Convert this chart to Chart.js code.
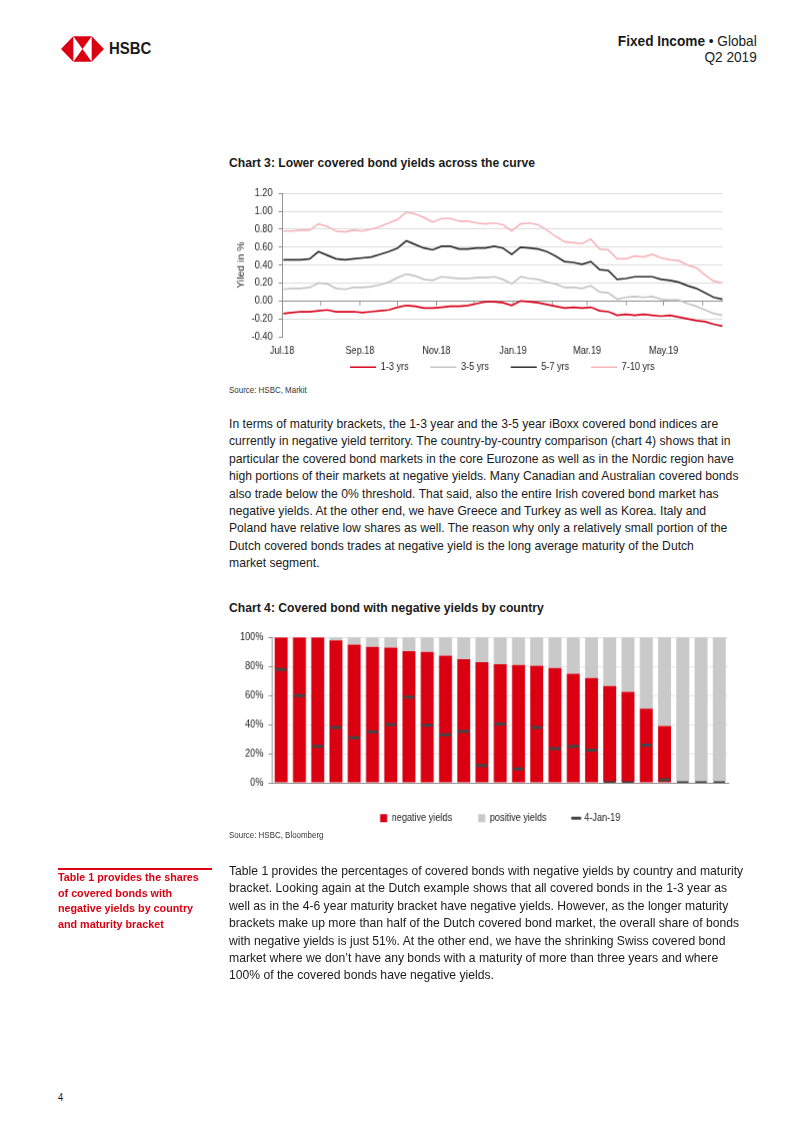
<!DOCTYPE html>
<html>
<head>
<meta charset="utf-8">
<script src="https://cdn.jsdelivr.net/npm/chart.js@4.4.1/dist/chart.umd.min.js"></script>
<style>
html, body { margin: 0; padding: 0; background: #fff; }
body { width: 802px; height: 1133px; position: relative; overflow: hidden;
       font-family: "Liberation Sans", Arial, sans-serif; color: #1a1a1a; }
.t { position: absolute; white-space: nowrap; transform: scaleX(0.935); transform-origin: 0 0; }
.p { font-size: 13px; line-height: 17.4px; }
.ttl { font-size: 13px; font-weight: bold; line-height: 16px; }
.src { font-size: 8.5px; line-height: 10px; color: #333; }
.side { font-size: 11.5px; font-weight: bold; line-height: 15.7px; color: #db0011; }
.hdr { position: absolute; right: 45px; top: 33px; text-align: right; font-size: 14.5px; line-height: 16px;
       white-space: nowrap; transform: scaleX(0.94); transform-origin: 100% 0; }
.box { position: absolute; transform: scaleX(0.87); transform-origin: 0 0; }
</style>
</head>
<body>

<svg style="position:absolute;left:61px;top:36px" width="43" height="26" viewBox="0 0 42 25">
  <polygon points="0,12.5 12,0 12,25" fill="#db0011"/>
  <polygon points="42,12.5 30,0 30,25" fill="#db0011"/>
  <polygon points="12,0 30,0 21,12.5" fill="#db0011"/>
  <polygon points="12,25 30,25 21,12.5" fill="#db0011"/>
</svg>
<div class="t" style="left:109px;top:39px;font-size:17px;font-weight:bold;line-height:20px;transform:scaleX(0.88);">HSBC</div>

<div class="hdr"><b>Fixed Income</b> &#8226; Global<br>Q2 2019</div>

<div class="t ttl" style="left:229px;top:155px;">Chart 3: Lower covered bond yields across the curve</div>
<div class="box" style="left:229px;top:180px;width:584px;height:201.5px;"><canvas id="chart3"></canvas></div>
<div class="t src" style="left:229px;top:385px;">Source: HSBC, Markit</div>

<div class="t p" style="left:229px;top:415px;">
In terms of maturity brackets, the 1-3 year and the 3-5 year iBoxx covered bond indices are<br>
currently in negative yield territory. The country-by-country comparison (chart 4) shows that in<br>
particular the covered bond markets in the core Eurozone as well as in the Nordic region have<br>
high portions of their markets at negative yields. Many Canadian and Australian covered bonds<br>
also trade below the 0% threshold. That said, also the entire Irish covered bond market has<br>
negative yields. At the other end, we have Greece and Turkey as well as Korea. Italy and<br>
Poland have relative low shares as well. The reason why only a relatively small portion of the<br>
Dutch covered bonds trades at negative yield is the long average maturity of the Dutch<br>
market segment.
</div>

<div class="t ttl" style="left:229px;top:600px;">Chart 4: Covered bond with negative yields by country</div>
<div class="box" style="left:229px;top:625px;width:584px;height:207.5px;"><canvas id="chart4"></canvas></div>
<div class="t src" style="left:229px;top:830px;">Source: HSBC, Bloomberg</div>

<div style="position:absolute;left:58px;top:868px;width:154px;height:1.5px;background:#db0011;"></div>
<div class="t side" style="left:58px;top:870px;">
Table 1 provides the shares<br>
of covered bonds with<br>
negative yields by country<br>
and maturity bracket
</div>

<div class="t p" style="left:229px;top:862px;">
Table 1 provides the percentages of covered bonds with negative yields by country and maturity<br>
bracket. Looking again at the Dutch example shows that all covered bonds in the 1-3 year as<br>
well as in the 4-6 year maturity bracket have negative yields. However, as the longer maturity<br>
brackets make up more than half of the Dutch covered bond market, the overall share of bonds<br>
with negative yields is just 51%. At the other end, we have the shrinking Swiss covered bond<br>
market where we don’t have any bonds with a maturity of more than three years and where<br>
100% of the covered bonds have negative yields.
</div>

<div class="t" style="left:58px;top:1092px;font-size:10px;line-height:12px;">4</div>

<script>
// Chart 3: weekly readings of the iBoxx covered bond yields (%)
const weekDates = [
  '2018-07-02', '2018-07-09', '2018-07-16', '2018-07-23', '2018-07-30',
  '2018-08-06', '2018-08-13', '2018-08-20', '2018-08-27',
  '2018-09-03', '2018-09-10', '2018-09-17', '2018-09-24',
  '2018-10-01', '2018-10-08', '2018-10-15', '2018-10-22', '2018-10-29',
  '2018-11-05', '2018-11-12', '2018-11-19', '2018-11-26',
  '2018-12-03', '2018-12-10', '2018-12-17', '2018-12-24', '2018-12-31',
  '2019-01-07', '2019-01-14', '2019-01-21', '2019-01-28',
  '2019-02-04', '2019-02-11', '2019-02-18', '2019-02-25',
  '2019-03-04', '2019-03-11', '2019-03-18', '2019-03-25',
  '2019-04-01', '2019-04-08', '2019-04-15', '2019-04-22', '2019-04-29',
  '2019-05-06', '2019-05-13', '2019-05-20', '2019-05-27',
  '2019-06-03', '2019-06-10', '2019-06-17'
];
const yields13 = [
  -0.14, -0.13, -0.12, -0.12, -0.11, -0.10, -0.12, -0.12, -0.12, -0.13,
  -0.12, -0.11, -0.10, -0.07, -0.05, -0.06, -0.08, -0.08, -0.07, -0.06,
  -0.06, -0.05, -0.03, -0.01, -0.01, -0.02, -0.05, 0.00, -0.01, -0.02,
  -0.04, -0.06, -0.08, -0.07, -0.08, -0.07, -0.11, -0.12, -0.16, -0.15,
  -0.16, -0.15, -0.16, -0.17, -0.16, -0.18, -0.20, -0.22, -0.23, -0.26, -0.28
];
const yields35 = [
  0.13, 0.14, 0.14, 0.15, 0.20, 0.19, 0.14, 0.13, 0.15, 0.15,
  0.16, 0.18, 0.21, 0.26, 0.30, 0.28, 0.24, 0.23, 0.27, 0.26,
  0.25, 0.25, 0.26, 0.26, 0.27, 0.24, 0.19, 0.27, 0.25, 0.24,
  0.21, 0.19, 0.15, 0.15, 0.14, 0.17, 0.10, 0.09, 0.02, 0.04,
  0.05, 0.04, 0.05, 0.02, 0.01, 0.01, -0.03, -0.06, -0.10, -0.14, -0.16
];
const yields57 = [
  0.46, 0.46, 0.46, 0.47, 0.55, 0.51, 0.47, 0.46, 0.47, 0.48,
  0.49, 0.52, 0.55, 0.59, 0.67, 0.63, 0.59, 0.57, 0.61, 0.61,
  0.58, 0.58, 0.59, 0.59, 0.61, 0.59, 0.52, 0.60, 0.59, 0.58,
  0.55, 0.50, 0.44, 0.43, 0.41, 0.44, 0.35, 0.34, 0.24, 0.25,
  0.27, 0.27, 0.27, 0.24, 0.23, 0.21, 0.17, 0.14, 0.09, 0.04, 0.02
];
const yields710 = [
  0.78, 0.78, 0.79, 0.79, 0.86, 0.83, 0.78, 0.77, 0.79, 0.78,
  0.80, 0.83, 0.87, 0.91, 0.99, 0.97, 0.93, 0.88, 0.92, 0.92,
  0.89, 0.89, 0.87, 0.86, 0.87, 0.85, 0.78, 0.86, 0.87, 0.85,
  0.79, 0.72, 0.66, 0.65, 0.64, 0.69, 0.58, 0.57, 0.47, 0.47,
  0.50, 0.49, 0.52, 0.48, 0.46, 0.45, 0.40, 0.37, 0.29, 0.22, 0.20
];
const monthStarts = [
  '2018-07-01', '2018-08-01', '2018-09-01', '2018-10-01', '2018-11-01', '2018-12-01',
  '2019-01-01', '2019-02-01', '2019-03-01', '2019-04-01', '2019-05-01', '2019-06-01'
];
const monthLabels = ['Jul.18', '', 'Sep.18', '', 'Nov.18', '', 'Jan.19', '', 'Mar.19', '', 'May.19', ''];

// Chart 4: share of covered bonds with negative yields (%)
const countries = ['CH', 'IE', 'LU', 'CA', 'NO', 'GB', 'SE', 'DK', 'FI', 'DE', 'BE', 'NZ', 'AT',
                   'SG', 'FR', 'ES', 'PT', 'AU', 'JP', 'PL', 'NL', 'IT', 'GR', 'KR', 'TR'];
const negShares = [100, 100, 100, 98, 95, 93.5, 93, 90.5, 90, 87.5, 85, 83, 81.5,
                   81, 80.5, 79, 75, 72, 66.5, 62.5, 51, 39, 0, 0, 0];
const posShares = [0, 0, 0, 2, 5, 6.5, 7, 9.5, 10, 12.5, 15, 17, 18.5,
                   19, 19.5, 21, 25, 28, 33.5, 37.5, 49, 61, 100, 100, 100];
const jan19Shares = [78, 60, 25, 38, 31, 35, 40, 59, 39.5, 33, 35.5, 12, 40.5,
                     9.5, 38, 23.5, 25, 22.5, 0, 0, 26, 2, 0, 0, 0];

Chart.defaults.font.family = '"Liberation Sans", Arial, sans-serif';
Chart.defaults.color = '#222';
Chart.defaults.animation = false;

const RED = '#db0011';
const AXIS = '#8c8c8c';

// Tage seit dem 1. Juli 2018 als x-Wert
const day0 = Date.parse('2018-07-01');
const toDay = s => Math.round((Date.parse(s) - day0) / 864e5);
const monthDays = monthStarts.map(toDay);
const lastDay = toDay(weekDates[weekDates.length - 1]);

function series(values) {
    return values.map((v, i) => ({ x: toDay(weekDates[i]), y: v }));
}

function lineSet(label, values, color) {
    return {
        label: label,
        data: series(values),
        borderColor: color,
        backgroundColor: color,
        borderWidth: 1.7,
        pointRadius: 0,
        tension: 0
    };
}

new Chart(document.getElementById('chart3'), {
    type: 'line',
    data: {
        datasets: [
            lineSet('1-3 yrs', yields13, '#d9001a'),
            lineSet('3-5 yrs', yields35, '#c4c4c4'),
            lineSet('5-7 yrs', yields57, '#2b2b2b'),
            lineSet('7-10 yrs', yields710, '#f6b4b9')
        ]
    },
    options: {
        responsive: true,
        maintainAspectRatio: false,
        layout: { padding: { top: 10, right: 8, left: 0, bottom: 0 } },
        scales: {
            // x-Achse liegt auf der Nulllinie, Beschriftung weiter unten
            x: {
                type: 'linear',
                min: 0,
                max: lastDay,
                position: { y: 0 },
                afterBuildTicks: scale => { scale.ticks = monthDays.map(v => ({ value: v })); },
                ticks: {
                    autoSkip: false,
                    maxRotation: 0,
                    padding: 39,
                    font: { size: 10.5 },
                    callback: (v, i) => monthLabels[i]
                },
                grid: { drawOnChartArea: false, drawTicks: true, tickLength: 4, color: AXIS },
                border: { color: AXIS, width: 1 }
            },
            y: {
                min: -0.4,
                max: 1.2,
                afterFit: s => { s.width = 61; },
                ticks: {
                    stepSize: 0.2,
                    padding: 7,
                    font: { size: 10.5 },
                    callback: v => v.toFixed(2)
                },
                grid: {
                    color: c => (c.tick && c.tick.value < -0.39) ? 'rgba(0,0,0,0)' : '#dcdcdc',
                    tickColor: AXIS,
                    tickLength: 4
                },
                border: { color: AXIS },
                title: {
                    display: true,
                    text: 'Yiled in %',
                    font: { size: 10.5 },
                    padding: { top: 8, bottom: 0 }
                }
            }
        },
        plugins: {
            legend: {
                position: 'bottom',
                fullSize: false,
                labels: {
                    usePointStyle: true,
                    pointStyle: 'line',
                    pointStyleWidth: 30,
                    boxHeight: 10,
                    padding: 25,
                    font: { size: 10.5 }
                }
            },
            tooltip: { enabled: false }
        }
    }
});

const legendStyles4 = ['rect', 'rect', 'line'];

new Chart(document.getElementById('chart4'), {
    type: 'bar',
    data: {
        labels: countries,
        datasets: [
            {
                label: 'negative yields',
                data: negShares,
                backgroundColor: RED,
                stack: 's',
                order: 1,
                barPercentage: 0.71,
                categoryPercentage: 1
            },
            {
                label: 'positive yields',
                data: posShares,
                backgroundColor: '#c9c9c9',
                stack: 's',
                order: 1,
                barPercentage: 0.71,
                categoryPercentage: 1
            },
            {
                type: 'line',
                label: '4-Jan-19',
                data: jan19Shares,
                showLine: false,
                stack: 'm',
                order: 0,
                pointStyle: 'line',
                pointRadius: 6.5,
                pointBorderWidth: 3,
                borderWidth: 3,
                borderColor: '#454545',
                backgroundColor: '#454545',
                pointBorderColor: '#454545'
            }
        ]
    },
    options: {
        responsive: true,
        maintainAspectRatio: false,
        layout: { padding: { top: 11, right: 10, left: 0, bottom: 0 } },
        scales: {
            x: {
                stacked: true,
                afterFit: s => { s.height = 0; },
                ticks: { autoSkip: false, maxRotation: 0, padding: 6, font: { size: 10.5 } },
                grid: { display: false, drawTicks: false },
                border: { color: AXIS }
            },
            y: {
                stacked: true,
                min: 0,
                max: 100,
                afterFit: s => { s.width = 49.5; },
                ticks: { stepSize: 20, padding: 6, font: { size: 10.5 }, callback: v => v + '%' },
                grid: { color: '#e6e6e6', tickColor: AXIS, tickLength: 4 },
                border: { color: AXIS }
            }
        },
        plugins: {
            legend: {
                position: 'bottom',
                fullSize: false,
                labels: {
                    usePointStyle: true,
                    boxWidth: 8,
                    boxHeight: 8,
                    padding: 30,
                    font: { size: 10.5 },
                    generateLabels: chart => {
                        const items = Chart.defaults.plugins.legend.labels.generateLabels(chart);
                        items.sort((a, b) => a.datasetIndex - b.datasetIndex);
                        items.forEach(it => { it.pointStyle = legendStyles4[it.datasetIndex]; });
                        return items;
                    }
                }
            },
            tooltip: { enabled: false }
        }
    }
});
</script>
</body>
</html>
